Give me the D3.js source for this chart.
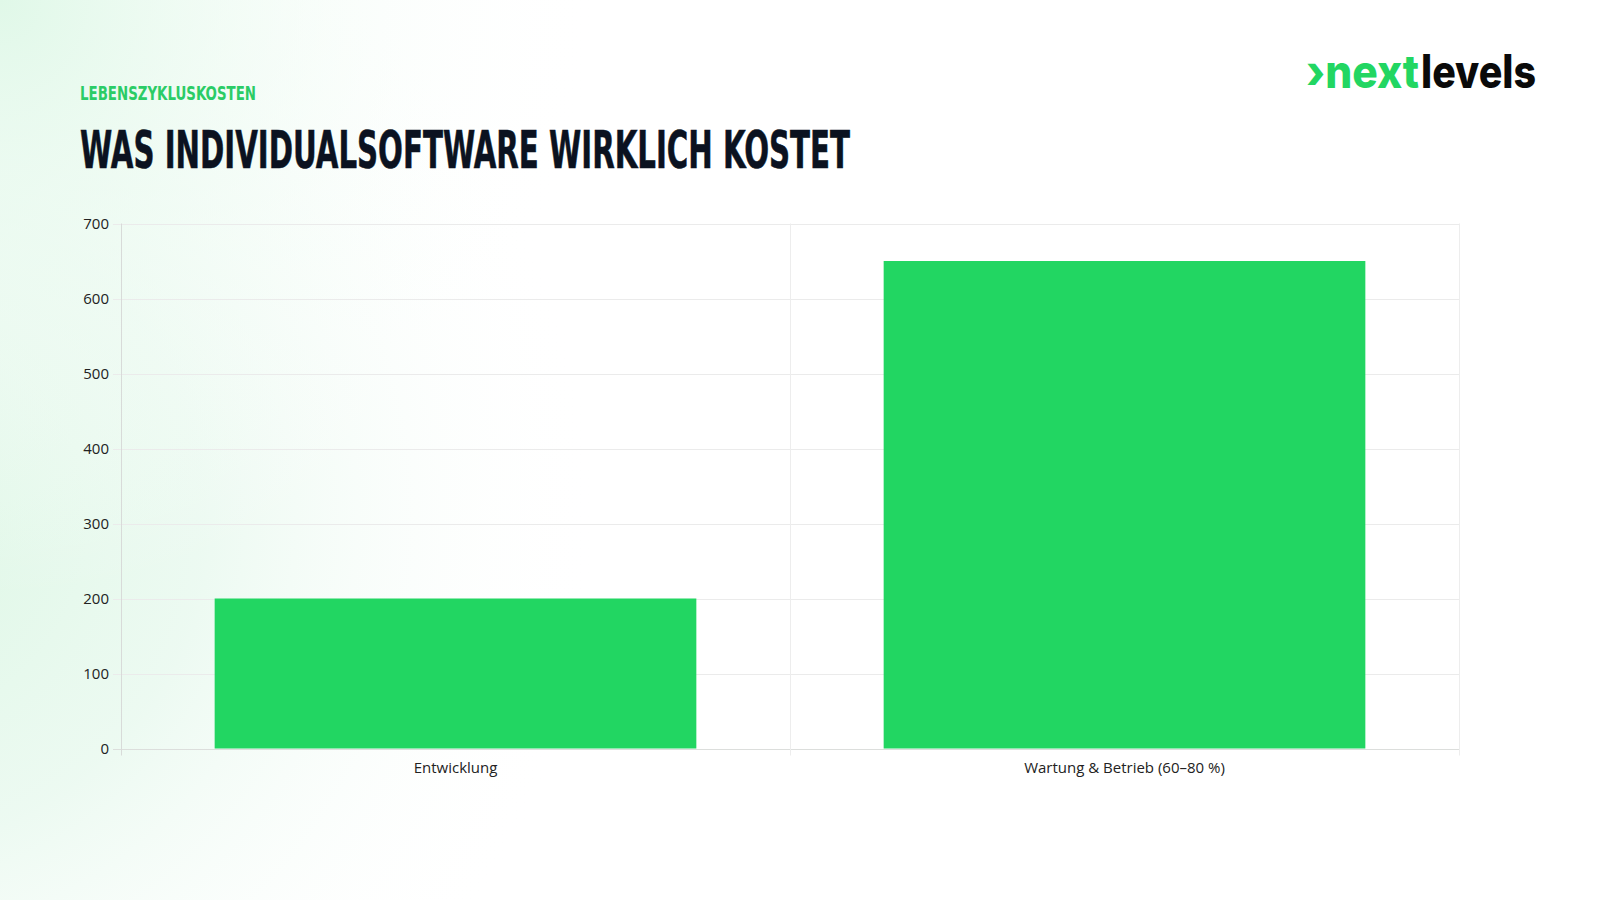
<!DOCTYPE html>
<html>
<head>
<meta charset="utf-8">
<script src="https://cdn.jsdelivr.net/npm/d3@7"></script>
<style>
  html, body { margin: 0; padding: 0; background: #ffffff; }
  svg { display: block; }
</style>
</head>
<body>
<svg id="chart" width="1600" height="900"></svg>
<script>
// ---- data ----
const categories = ["Entwicklung", "Wartung & Betrieb (60–80 %)"];
const values = [200, 650];
const yTicks = [0, 100, 200, 300, 400, 500, 600, 700];
const eyebrow = "LEBENSZYKLUSKOSTEN";
const title = "WAS INDIVIDUALSOFTWARE WIRKLICH KOSTET";

(function () {
const svg = d3.select("#chart");
const W = 1600, H = 900;

// ---- background ----
const defs = svg.append("defs");
const g1 = defs.append("radialGradient").attr("id", "bgL")
  .attr("gradientUnits", "userSpaceOnUse").attr("cx", -120).attr("cy", 520).attr("r", 720);
g1.append("stop").attr("offset", "0").attr("stop-color", "#dcf7e4").attr("stop-opacity", 1);
g1.append("stop").attr("offset", "0.45").attr("stop-color", "#e9f9ef").attr("stop-opacity", 0.85);
g1.append("stop").attr("offset", "1").attr("stop-color", "#ffffff").attr("stop-opacity", 0);
const g2 = defs.append("radialGradient").attr("id", "bgT")
  .attr("gradientUnits", "userSpaceOnUse").attr("cx", 0).attr("cy", 0).attr("r", 600);
g2.append("stop").attr("offset", "0").attr("stop-color", "#e0f8e8").attr("stop-opacity", 1);
g2.append("stop").attr("offset", "1").attr("stop-color", "#ffffff").attr("stop-opacity", 0);
svg.append("rect").attr("width", W).attr("height", H).attr("fill", "#ffffff");
svg.append("rect").attr("width", W).attr("height", H).attr("fill", "url(#bgL)");
svg.append("rect").attr("width", W).attr("height", H).attr("fill", "url(#bgT)");

// ---- header ----
svg.append("text")
  .attr("x", 80).attr("y", 100)
  .attr("font-family", "'Liberation Sans Narrow','DejaVu Sans Condensed','Roboto',sans-serif")
  .attr("font-weight", 700).attr("font-size", 20)
  .attr("fill", "#2bcc66")
  .attr("textLength", 176).attr("lengthAdjust", "spacingAndGlyphs")
  .text(eyebrow);

svg.append("text")
  .attr("x", 80).attr("y", 168)
  .attr("font-family", "'Liberation Sans Narrow','DejaVu Sans Condensed','Roboto',sans-serif")
  .attr("font-weight", 700).attr("font-size", 52)
  .attr("fill", "#0b1220")
  .attr("stroke", "#0b1220").attr("stroke-width", 0.6)
  .attr("textLength", 770).attr("lengthAdjust", "spacingAndGlyphs")
  .text(title);

// ---- logo ----
svg.append("text")
  .attr("x", 1306).attr("y", 88)
  .attr("font-family", "Inter, 'Noto Sans', sans-serif")
  .attr("font-weight", 800).attr("font-size", 46)
  .attr("fill", "#22d662")
  .attr("textLength", 113).attr("lengthAdjust", "spacingAndGlyphs")
  .text("›next");
svg.append("text")
  .attr("x", 1421).attr("y", 88)
  .attr("font-family", "Inter, 'Noto Sans', sans-serif")
  .attr("font-weight", 800).attr("font-size", 46)
  .attr("fill", "#0a0a0a")
  .attr("textLength", 115).attr("lengthAdjust", "spacingAndGlyphs")
  .text("levels");

// ---- scales ----
const pLeft = 121, pRight = 1459, pTop = 223.5, pBottom = 748.5;
const x = d3.scaleBand().domain(categories).range([pLeft, pRight])
  .paddingInner(0.28).paddingOuter(0.14);
const y = d3.scaleLinear().domain([0, 700]).range([pBottom, pTop]);

const font = "'Open Sans','Noto Sans',sans-serif";

// horizontal grid
const grid = svg.append("g");
grid.selectAll("line.h").data(yTicks).join("line")
  .attr("x1", pLeft - 8).attr("x2", pRight)
  .attr("y1", d => Math.round(y(d)) + 0.5).attr("y2", d => Math.round(y(d)) + 0.5)
  .attr("stroke", d => d === 0 ? "#dcdedc" : "#ebebeb").attr("stroke-width", 1);

// vertical grid at band boundaries
const vb = d3.range(categories.length + 1).map(i => pLeft + i * (pRight - pLeft) / categories.length);
grid.selectAll("line.v").data(vb).join("line")
  .attr("x1", d => Math.round(d) + 0.5).attr("x2", d => Math.round(d) + 0.5)
  .attr("y1", pTop).attr("y2", pBottom + 7)
  .attr("stroke", (d, i) => i === 0 ? "#d8dbd9" : "#ededed").attr("stroke-width", 1);

// bars
svg.append("g").selectAll("rect").data(values).join("rect")
  .attr("x", (d, i) => x(categories[i]))
  .attr("y", d => y(d))
  .attr("width", x.bandwidth())
  .attr("height", d => y(0) - y(d))
  .attr("fill", "#22d662");

// y tick labels
svg.append("g").selectAll("text").data(yTicks).join("text")
  .attr("x", 109).attr("y", d => y(d))
  .attr("dy", "0.35em")
  .attr("text-anchor", "end")
  .attr("font-family", font).attr("font-size", 15)
  .attr("fill", "#222")
  .text(d => d);

// x labels
svg.append("g").selectAll("text").data(categories).join("text")
  .attr("x", d => x(d) + x.bandwidth() / 2).attr("y", 773)
  .attr("text-anchor", "middle")
  .attr("font-family", font).attr("font-size", 15)
  .attr("fill", "#222")
  .text(d => d);
})();
</script>
</body>
</html>
